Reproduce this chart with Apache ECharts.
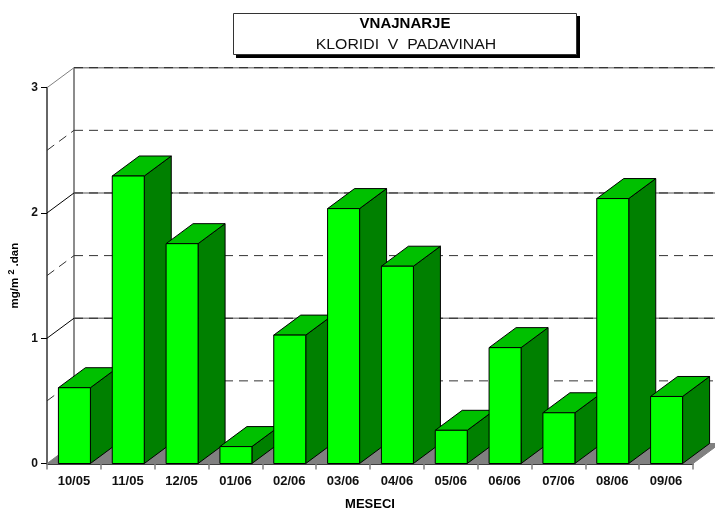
<!DOCTYPE html>
<html>
<head>
<meta charset="utf-8">
<style>html,body{margin:0;padding:0;background:#fff}#c{width:715px;height:509px}</style>
<script src="https://cdn.jsdelivr.net/npm/echarts@6/dist/echarts.min.js"></script>
</head>
<body>
<div id="c"></div>
<script>
const categories = ['10/05','11/05','12/05','01/06','02/06','03/06','04/06','05/06','06/06','07/06','08/06','09/06'];
const values = [0.605,2.295,1.755,0.135,1.025,2.035,1.575,0.265,0.925,0.405,2.115,0.535];
const majorLevels = [1,2,3];
const minorLevels = [0.5,1.5,2.5];
const DX = 27, DY = 20, BAR_W = 32, WALL_RIGHT = 760;
const F = '"Liberation Sans", Arial, sans-serif';

function gridRender(isMajor) {
  return function (params, api) {
    const v = api.value(0);
    const p = api.coord([0, v]);
    const x0 = params.coordSys.x, y = p[1];
    const kids = [];
    if (isMajor) {
      kids.push({type:'line', shape:{x1:x0+DX,y1:y-DY,x2:WALL_RIGHT,y2:y-DY}, style:{stroke:'#8c8c8c',lineWidth:1.5}});
      kids.push({type:'line', shape:{x1:x0+DX,y1:y-DY,x2:WALL_RIGHT,y2:y-DY}, style:{stroke:'#222',lineWidth:1,lineDash:[9,6]}});
      kids.push({type:'line', shape:{x1:x0,y1:y,x2:x0+DX,y2:y-DY}, style:{stroke:v===3?'#808080':'#000',lineWidth:1}});
    } else {
      kids.push({type:'line', shape:{x1:x0+DX,y1:y-DY,x2:WALL_RIGHT,y2:y-DY}, style:{stroke:'#333',lineWidth:1,lineDash:[9,6]}});
      kids.push({type:'line', shape:{x1:x0,y1:y,x2:x0+DX,y2:y-DY}, style:{stroke:'#333',lineWidth:1,lineDash:[9,6]}});
    }
    return {type:'group', children:kids};
  };
}
function floorRender(params, api) {
  const cs = params.coordSys;
  const top = api.coord([0, 3])[1], y0 = api.coord([0, 0])[1];
  const x0 = cs.x, x1 = cs.x + cs.width;
  return {type:'group', children:[
    {type:'polygon', shape:{points:[[x0,y0],[x0+DX,y0-DY],[x1+DX,y0-DY],[x1,y0]]}, style:{fill:'#808080',stroke:'#808080',lineWidth:1}},
    {type:'rect', shape:{x:x0+DX-1,y:top-DY,width:2,height:y0-top}, style:{fill:'#8c8c8c'}}
  ]};
}
function barRender(params, api) {
  const i = api.value(0), v = api.value(1);
  const top = api.coord([i, v]), base = api.coord([i, 0]);
  const l = top[0] - BAR_W/2 + 0.5, r = l + BAR_W, t = top[1], b = base[1];
  const edge = {stroke:'#000', lineWidth:1, lineJoin:'round'};
  return {type:'group', children:[
    {type:'polygon', shape:{points:[[r,t],[r+DX,t-DY],[r+DX,b-DY],[r,b]]}, style:Object.assign({fill:'#008000'},edge)},
    {type:'polygon', shape:{points:[[l,t],[l+DX,t-DY],[r+DX,t-DY],[r,t]]}, style:Object.assign({fill:'#00c000'},edge)},
    {type:'rect', shape:{x:l,y:t,width:BAR_W,height:b-t}, style:Object.assign({fill:'#00ff00'},edge)}
  ]};
}

const chart = echarts.init(document.getElementById('c'), null, {renderer:'canvas'});
chart.setOption({
  animation:false,
  backgroundColor:'#fff',
  title:{
    text:'VNAJNARJE',
    left:405, top:16, textAlign:'center', padding:0,
    textStyle:{fontFamily:F,fontSize:15,fontWeight:'bold',color:'#000'},
    z:10
  },
  graphic:[
    {type:'rect', z:1, shape:{x:236,y:16,width:344,height:42}, style:{fill:'#000'}},
    {type:'rect', z:2, shape:{x:233.5,y:13.5,width:343,height:41}, style:{fill:'#fff',stroke:'#333',lineWidth:1}},
    {type:'text', z:3, x:406, y:45, scaleX:1.13, originX:0, originY:0,
     style:{text:'KLORIDI  V  PADAVINAH',fontFamily:F,fontSize:14,fill:'#111',textAlign:'center',textVerticalAlign:'middle'}}
  ],
  grid:{left:47, right:22, top:87.7, bottom:45.5, outerBoundsMode:'none'},
  xAxis:{
    type:'category', data:categories,
    name:'MESECI', nameLocation:'middle', nameGap:34,
    nameTextStyle:{fontFamily:F,fontSize:13,fontWeight:'bold',color:'#000'},
    axisLine:{show:true,lineStyle:{color:'#000',width:1.5}},
    axisTick:{show:true,length:6,alignWithLabel:false,lineStyle:{color:'#808080',width:1.5}},
    axisLabel:{fontFamily:F,fontSize:13,fontWeight:'bold',color:'#111',margin:11,interval:0}
  },
  yAxis:{
    type:'value', min:0, max:3, interval:1,
    name:'{a|mg/m }{s|2}{a| .dan}', nameLocation:'middle', nameGap:25,
    nameTextStyle:{fontFamily:F,fontSize:11.5,fontWeight:'bold',color:'#000',
      rich:{a:{fontFamily:F,fontSize:11.5,fontWeight:'bold',color:'#000'},
            s:{fontFamily:F,fontSize:9,fontWeight:'bold',color:'#000',verticalAlign:'top',padding:[0,0,6,0]}}},
    axisLine:{show:true,lineStyle:{color:'#666',width:2}},
    axisTick:{show:true,length:6,lineStyle:{color:'#000',width:1}},
    axisLabel:{fontFamily:F,fontSize:12,fontWeight:'bold',color:'#111',margin:9},
    splitLine:{show:false}
  },
  series:[
    {type:'custom',name:'floor',coordinateSystem:'cartesian2d',clip:false,silent:true,z:1,
     data:[[0,0]],renderItem:floorRender},
    {type:'custom',name:'major',coordinateSystem:'cartesian2d',clip:false,silent:true,z:1,
     encode:{x:1,y:0},data:majorLevels.map(v=>[v,0]),renderItem:gridRender(true)},
    {type:'custom',name:'minor',coordinateSystem:'cartesian2d',clip:false,silent:true,z:1,
     encode:{x:1,y:0},data:minorLevels.map(v=>[v,0]),renderItem:gridRender(false)},
    {type:'custom',name:'Kloridi',coordinateSystem:'cartesian2d',clip:false,z:3,
     encode:{x:0,y:1},data:values.map((v,i)=>[i,v]),renderItem:barRender}
  ]
});
</script>
</body>
</html>
